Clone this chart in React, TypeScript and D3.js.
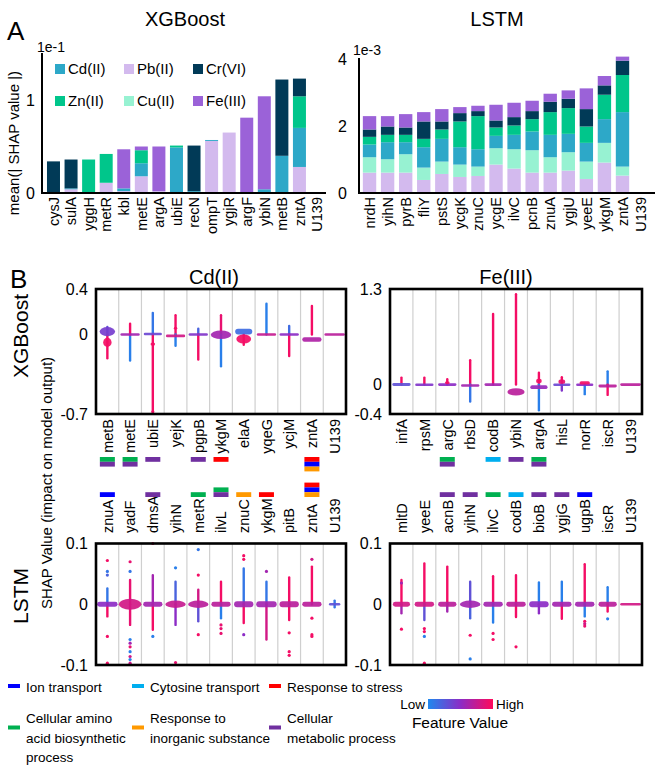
import React from 'react'
import * as d3 from 'd3'

const FONT = "'Liberation Sans', Arial, Helvetica, sans-serif"

// ---------- panel A : mean |SHAP| per metal ----------
const metals = ['Pb(II)', 'Cu(II)', 'Cd(II)', 'Zn(II)', 'Cr(VI)', 'Fe(III)'] // stack order, bottom -> top
const metalColors = ['#d3baee', '#97f2d2', '#2da8c8', '#00c68b', '#013a57', '#9b62d8']
const legendOrder = ['Cd(II)', 'Pb(II)', 'Cr(VI)', 'Zn(II)', 'Cu(II)', 'Fe(III)']

const xgbGenes = ['cysJ', 'sulA', 'yggH', 'metR', 'kbl', 'metE', 'argA', 'ubiE', 'recN', 'ompT', 'ygjR', 'argF', 'ybiN', 'metB', 'zntA', 'U139']
const xgbPb = [0, 0.04, 0, 0.11, 0.02, 0.18, 0.02, 0, 0, 0.56, 0.65, 0, 0, 0, 0.28, 0]
const xgbCu = [0, 0, 0, 0, 0, 0, 0, 0, 0, 0, 0, 0, 0, 0, 0, 0]
const xgbCd = [0, 0.01, 0, 0, 0.03, 0.14, 0, 0.49, 0.02, 0.01, 0, 0, 0.04, 0.40, 0.42, 0]
const xgbZn = [0, 0, 0.36, 0.31, 0, 0.14, 0, 0.02, 0, 0, 0, 0, 0, 0, 0.34, 0]
const xgbCr = [0.34, 0.31, 0, 0, 0, 0, 0, 0, 0.49, 0, 0, 0, 0, 0.82, 0.19, 0]
const xgbFe = [0, 0, 0, 0, 0.42, 0.04, 0.48, 0, 0, 0, 0, 0.81, 1.00, 0, 0, 0]

const lstmGenes = ['nrdH', 'yihN', 'pyrB', 'fliY', 'pstS', 'ycgK', 'znuC', 'ycgE', 'ilvC', 'pcnB', 'znuA', 'ygjU', 'yeeE', 'ykgM', 'zntA', 'U139']
const lstmPb = [0.61, 0.61, 0.61, 0.39, 0.57, 0.48, 0.51, 0.85, 0.73, 0.61, 0.61, 0.67, 0.42, 0.91, 0.52, 0]
const lstmCu = [0.46, 0.40, 0.55, 0.37, 0.37, 0.37, 0.28, 0.49, 0.58, 0.67, 0.46, 0.55, 0.52, 0.59, 0.27, 0]
const lstmCd = [0.38, 0.51, 0.36, 0.61, 0.68, 0.52, 0.52, 0.37, 0.43, 0.56, 0.67, 0.55, 0.56, 0.71, 1.63, 0]
const lstmZn = [0.23, 0.22, 0.22, 0.25, 0.28, 0.77, 0.99, 0.25, 0.28, 0.37, 0.68, 0.77, 0.49, 0.73, 1.11, 0]
const lstmCr = [0.22, 0.25, 0.22, 0.52, 0.24, 0.25, 0.15, 0.21, 0.25, 0.24, 0.31, 0.28, 0.52, 0.28, 0.43, 0]
const lstmFe = [0.40, 0.31, 0.40, 0.28, 0.37, 0.18, 0.16, 0.47, 0.43, 0.31, 0.24, 0.25, 0.62, 0.28, 0.12, 0]

// ---------- panel B : SHAP summaries ----------
// per gene: l = vertical runs [from, to, featureValue], b = dense blobs [lo, hi, relWidth, featureValue], d = single points [shap, featureValue]
const cdXgb = [
  { n: 'metB', l: [[0, 0.065, 0.3], [-0.21, 0, 0.95]], b: [[-0.015, 0.065, 0.68, 0.4], [-0.11, -0.03, 0.37, 0.95]] },
  { n: 'metE', l: [[-0.23, 0, 0.05], [0, 0.095, 0.95]], b: [[-0.008, 0.008, 0.85, 0.6]] },
  { n: 'ubiE', l: [[0, 0.19, 0.1], [-0.68, 0, 0.95]], b: [[-0.008, 0.015, 0.8, 0.35], [-0.1, -0.07, 0.2, 0.95]], d: [[-0.68, 0.95]] },
  { n: 'yejK', l: [[0, 0.17, 0.95], [-0.1, 0, 0.05]], b: [[-0.025, 0, 0.85, 0.8], [0.045, 0.065, 0.15, 0.95]] },
  { n: 'pgpB', l: [[0, 0.05, 0.2], [-0.22, 0, 0.95]], b: [[-0.01, 0.01, 0.85, 0.45]] },
  { n: 'ykgM', l: [[0, 0.17, 0.9], [-0.28, 0, 0.05]], b: [[-0.04, 0.035, 0.9, 0.6]] },
  { n: 'elaA', l: [[-0.09, 0, 0.95]], b: [[0, 0.05, 0.75, 0.15], [-0.08, 0, 0.65, 0.95]] },
  { n: 'yqeG', l: [[0, 0.27, 0.05]], b: [[-0.008, 0.008, 0.85, 0.75]] },
  { n: 'ycjM', l: [[0, 0.075, 0.15], [-0.19, 0, 0.95]], b: [[-0.008, 0.008, 0.85, 0.5]] },
  { n: 'zntA', l: [[0, 0.25, 0.95]], b: [[-0.065, -0.025, 0.85, 0.65]] },
  { n: 'U139', b: [[-0.006, 0.006, 0.9, 0.7]] },
]
const feXgb = [
  { n: 'infA', l: [[0, 0.095, 0.95]], b: [[-0.02, 0.02, 0.8, 0.3]] },
  { n: 'rpsM', l: [[0, 0.095, 0.95]], b: [[-0.02, 0.015, 0.8, 0.45]] },
  { n: 'argC', l: [[0, 0.072, 0.95]], b: [[-0.015, 0.015, 0.8, 0.5], [0.01, 0.04, 0.2, 0.95]] },
  { n: 'rbsD', l: [[0, 0.33, 0.95], [-0.23, 0, 0.1]], b: [[-0.03, 0.005, 0.8, 0.6]] },
  { n: 'codB', l: [[0, 0.96, 0.95]], b: [[-0.015, 0.015, 0.75, 0.6]] },
  { n: 'ybiN', l: [[0, 1.23, 0.95]], b: [[-0.15, -0.05, 0.75, 0.7]] },
  { n: 'argA', l: [[0, 0.16, 0.95], [-0.35, 0, 0.05]], b: [[-0.06, -0.01, 0.75, 0.55], [0.02, 0.08, 0.25, 0.95]] },
  { n: 'hisL', l: [[0, 0.1, 0.95], [-0.08, 0, 0.45]], b: [[-0.02, 0.015, 0.75, 0.35], [0.01, 0.07, 0.3, 0.9]] },
  { n: 'norR', l: [[-0.13, 0, 0.05]], b: [[-0.015, 0.01, 0.75, 0.5], [0, 0.045, 0.45, 0.95]] },
  { n: 'iscR', l: [[0, 0.18, 0.05], [-0.14, 0, 0.95]], b: [[-0.04, 0, 0.8, 0.7]] },
  { n: 'U139', b: [[-0.01, 0.01, 0.9, 0.7]] },
]
const cdLstm = [
  { n: 'znuA', l: [[0, 0.026, 0.1], [-0.02, 0, 0.95]], b: [[-0.004, 0.004, 0.9, 0.5]], d: [[0.054, 0.1], [0.048, 0.2], [0.072, 0.95], [-0.053, 0.95], [-0.097, 0.95]] },
  { n: 'yadF', l: [[0, 0.04, 0.9], [-0.034, 0, 0.9]], b: [[-0.009, 0.009, 1.0, 0.8]], d: [[0.054, 0.1], [0.07, 0.9], [-0.058, 0.05], [-0.064, 0.6], [-0.07, 0.9], [-0.078, 0.05], [-0.086, 0.8], [-0.091, 0.05], [-0.097, 0.8]] },
  { n: 'dmsA', l: [[0, 0.048, 0.6], [-0.042, 0, 0.95]], b: [[-0.004, 0.004, 0.85, 0.6]], d: [[0.1, 0.95], [-0.053, 0.05]] },
  { n: 'yihN', l: [[0, 0.037, 0.2], [-0.034, 0, 0.5]], b: [[-0.006, 0.006, 0.9, 0.75]], d: [[0.06, 0.05], [-0.096, 0.9]] },
  { n: 'metR', l: [[0, 0.024, 0.8], [-0.028, 0, 0.3]], b: [[-0.006, 0.006, 0.9, 0.7]], d: [[0.048, 0.95], [0.09, 0.1], [-0.05, 0.95]] },
  { n: 'ilvL', l: [[0, 0.037, 0.95], [-0.023, 0, 0.05]], b: [[-0.004, 0.004, 0.85, 0.7]], d: [[-0.034, 0.9], [-0.04, 0.9], [-0.048, 0.9]] },
  { n: 'znuC', l: [[0, 0.059, 0.1], [-0.031, 0, 0.95]], b: [[-0.005, 0.005, 0.85, 0.6]], d: [[0.074, 0.95], [0.08, 0.95], [-0.05, 0.5]] },
  { n: 'ykgM', l: [[0, 0.037, 0.1], [-0.058, 0, 0.8]], b: [[-0.005, 0.005, 0.9, 0.6]], d: [[0.054, 0.6]] },
  { n: 'pitB', l: [[0, 0.044, 0.95], [-0.026, 0, 0.95]], b: [[-0.005, 0.005, 0.85, 0.7]], d: [[-0.047, 0.95], [-0.078, 0.95], [-0.084, 0.95]] },
  { n: 'zntA', l: [[0, 0.062, 0.95]], b: [[-0.004, 0.004, 0.85, 0.7]], d: [[0.074, 0.8], [-0.023, 0.95], [-0.05, 0.95], [-0.053, 0.95]] },
  { n: 'U139', l: [[-0.005, 0.006, 0.1]], b: [[-0.002, 0.002, 0.5, 0.3]] },
]
const feLstm = [
  { n: 'mltD', l: [[0, 0.04, 0.95], [-0.015, 0, 0.6]], b: [[-0.004, 0.004, 0.75, 0.8]], d: [[0.035, 0.6], [-0.041, 0.95]] },
  { n: 'yeeE', l: [[0, 0.067, 0.95], [-0.026, 0, 0.3]], b: [[-0.004, 0.004, 0.85, 0.8]], d: [[-0.04, 0.95], [-0.045, 0.95], [-0.053, 0.05], [-0.097, 0.95]] },
  { n: 'acnB', l: [[0, 0.062, 0.95], [-0.012, 0, 0.6]], b: [[-0.004, 0.004, 0.8, 0.7]] },
  { n: 'yihN', l: [[0, 0.037, 0.3], [-0.023, 0, 0.2]], b: [[-0.006, 0.006, 0.9, 0.6]], d: [[-0.051, 0.95], [-0.09, 0.05]] },
  { n: 'ilvC', l: [[0, 0.046, 0.95], [-0.03, 0, 0.05]], b: [[-0.004, 0.004, 0.85, 0.6]], d: [[-0.048, 0.95], [-0.058, 0.95]] },
  { n: 'codB', l: [[0, 0.048, 0.95], [-0.021, 0, 0.95]], b: [[-0.004, 0.004, 0.85, 0.7]], d: [[-0.07, 0.95]] },
  { n: 'bioB', l: [[0, 0.036, 0.05], [-0.015, 0, 0.5]], b: [[-0.005, 0.005, 0.85, 0.5]] },
  { n: 'ygjG', l: [[0, 0.037, 0.05], [-0.024, 0, 0.95]], b: [[-0.004, 0.004, 0.85, 0.6]] },
  { n: 'ugpB', l: [[0, 0.066, 0.95], [-0.02, 0, 0.05]], b: [[-0.004, 0.004, 0.85, 0.6]], d: [[-0.028, 0.95], [-0.032, 0.8], [-0.036, 0.9]] },
  { n: 'iscR', l: [[0, 0.028, 0.05], [-0.012, 0, 0.95]], b: [[-0.004, 0.004, 0.8, 0.7]], d: [[-0.024, 0.05]] },
  { n: 'U139', b: [[-0.002, 0.002, 0.9, 0.8]] },
]

// GO annotations (top -> bottom) per gene
const cdXgbGo = [['amino', 'meta'], ['amino', 'meta'], ['meta'], [], ['meta'], ['stress'], [], [], [], ['stress', 'ion', 'inorg'], []]
const feXgbGo = [[], [], ['amino', 'meta'], [], ['cyt'], ['meta'], ['amino', 'meta'], [], [], [], []]
const cdLstmGo = [['ion'], [], ['meta'], [], ['amino'], ['amino', 'meta'], ['inorg'], ['stress'], [], ['stress', 'ion', 'inorg'], []]
const feLstmGo = [[], [], ['meta'], ['meta'], ['amino'], ['cyt'], ['meta'], ['meta'], ['ion'], [], []]

const goKeys = ['ion', 'cyt', 'stress', 'amino', 'inorg', 'meta']
const goColors = ['#0000ff', '#00aeef', '#ff0000', '#00b050', '#ff9900', '#7030a0']
const goLabels = [['Ion transport'], ['Cytosine transport'], ['Response to stress'], ['Cellular amino', 'acid biosynthetic', 'process'], ['Response to', 'inorganic substance'], ['Cellular', 'metabolic process']]

const goColor = d3.scaleOrdinal<string, string>().domain(goKeys).range(goColors)
const metalColor = d3.scaleOrdinal<string, string>().domain(metals).range(metalColors)
const fv = d3.piecewise(d3.interpolateRgb, ['#1e88ee', '#8c2cc6', '#ff0a5a'])

const StackedBars = ({ genes, series, x0, x1, yMax, yTop }) => {
  const rows = genes.map((g, i) => {
    const r: any = { gene: g }
    metals.forEach((m, k) => { r[m] = series[k][i] })
    return r
  })
  const stacked = d3.stack().keys(metals)(rows)
  const x = d3.scaleBand().domain(genes).range([x0, x1]).paddingInner(0.26).paddingOuter(0.13)
  const y = d3.scaleLinear().domain([0, yMax]).range([193, yTop])
  return (
    <g>
      {stacked.map(layer => (
        <g key={layer.key} fill={metalColor(layer.key)}>
          {layer.map((d, i) => d[1] - d[0] > 0 ? (
            <rect key={i} x={x(genes[i])} width={x.bandwidth()} y={y(d[1])} height={y(d[0]) - y(d[1])} />
          ) : null)}
        </g>
      ))}
      {genes.map(g => (
        <text key={g} transform={`translate(${x(g) + x.bandwidth() / 2},197) rotate(-90)`} dy="0.36em"
          textAnchor="end" fontSize={14.5}>{g}</text>
      ))}
    </g>
  )
}

const Swarm = ({ cols, go, x0, x1, dom, yr, ticks, tickText, side }) => {
  const x = d3.scaleBand().domain(cols.map(c => c.n)).range([x0, x1])
  const y = d3.scaleLinear().domain(dom).range(yr)
  const half = x.bandwidth() / 2
  return (
    <g>
      {cols.slice(1).map(c => (
        <line key={c.n} x1={x(c.n)} x2={x(c.n)} y1={yr[1]} y2={yr[0]} stroke="#cfcfcf" strokeWidth={1.2} />
      ))}
      {cols.map(c => {
        const cx = x(c.n) + half
        return (
          <g key={c.n}>
            {(c.l || []).map((s, i) => (
              <line key={'l' + i} x1={cx} x2={cx} y1={y(s[0])} y2={y(s[1])} stroke={fv(s[2])} strokeWidth={2.4} strokeLinecap="round" />
            ))}
            {(c.b || []).map((b, i) => {
              const hh = Math.max(1.3, Math.abs(y(b[0]) - y(b[1])) / 2)
              const cy = (y(b[0]) + y(b[1])) / 2
              const rx = b[2] * half
              return hh < 3.5 ? (
                <rect key={'b' + i} x={cx - rx} y={cy - hh} width={2 * rx} height={2 * hh} rx={hh} fill={fv(b[3])} opacity={0.92} />
              ) : (
                <ellipse key={'b' + i} cx={cx} cy={cy} rx={rx} ry={hh} fill={fv(b[3])} opacity={0.92} />
              )
            })}
            {(c.d || []).map((p, i) => (
              <circle key={'d' + i} cx={cx} cy={y(p[0])} r={1.6} fill={fv(p[1])} />
            ))}
          </g>
        )
      })}
      <rect x={x0} y={yr[1]} width={x1 - x0} height={yr[0] - yr[1]} fill="none" stroke="#000" strokeWidth={2.6} />
      {ticks.map((t, i) => (
        <text key={t} x={x0 - 8} y={y(t)} dy="0.35em" textAnchor="end" fontSize={16}>{tickText[i]}</text>
      ))}
      {cols.map((c, i) => {
        const cx = x(c.n) + half
        const tags = go[i]
        return (
          <g key={'lab' + c.n}>
            {side === 'below' ? (
              <text transform={`translate(${cx},419) rotate(-90)`} dy="0.36em" textAnchor="end" fontSize={14.5}>{c.n}</text>
            ) : (
              <text transform={`translate(${cx},533) rotate(-90)`} dy="0.36em" textAnchor="start" fontSize={14.5}>{c.n}</text>
            )}
            {tags.map((t, k) => (
              <rect key={t} x={cx - 7.5} width={15} height={4.8}
                y={side === 'below' ? 457 + k * 4.8 : 497 - (tags.length - k) * 4.8} fill={goColor(t)} />
            ))}
          </g>
        )
      })}
    </g>
  )
}

export default function App() {
  const gradStops = d3.range(0, 1.001, 0.1)
  return (
    <svg width={655} height={765} style={{ position: 'absolute', left: 0, top: 0, background: '#fff' }}
      fontFamily={FONT} fill="#000">
      <defs>
        <linearGradient id="fvgrad" x1="0" x2="1" y1="0" y2="0">
          {gradStops.map(s => <stop key={s} offset={s} stopColor={fv(s)} />)}
        </linearGradient>
      </defs>

      {/* ---- A ---- */}
      <text x={7} y={40} fontSize={26}>A</text>
      <text x={185} y={26} fontSize={20} textAnchor="middle">XGBoost</text>
      <text x={497} y={26} fontSize={20} textAnchor="middle">LSTM</text>
      <text transform="translate(19,143) rotate(-90)" textAnchor="middle" fontSize={15}>mean(| SHAP value |)</text>

      <StackedBars genes={xgbGenes} series={[xgbPb, xgbCu, xgbCd, xgbZn, xgbCr, xgbFe]} x0={44.7} x1={325.8} yMax={1} yTop={100} />
      <line x1={42} x2={42} y1={53} y2={194} stroke="#000" strokeWidth={2} />
      <line x1={41} x2={326} y1={193} y2={193} stroke="#000" strokeWidth={2} />
      <text x={37} y={52} fontSize={14}>1e-1</text>
      <text x={35} y={100} dy="0.35em" textAnchor="end" fontSize={16}>1</text>
      <text x={35} y={193} dy="0.35em" textAnchor="end" fontSize={16}>0</text>
      {legendOrder.map((m, i) => {
        const lx = [55, 124, 193][i % 3]
        const ly = i < 3 ? 64 : 96
        return (
          <g key={m}>
            <rect x={lx} y={ly} width={10} height={10} fill={metalColor(m)} />
            <text x={lx + 13} y={ly + 10} fontSize={15}>{m}</text>
          </g>
        )
      })}

      <StackedBars genes={lstmGenes} series={[lstmPb, lstmCu, lstmCd, lstmZn, lstmCr, lstmFe]} x0={360.5} x1={649.6} yMax={4} yTop={59.3} />
      <line x1={359} x2={359} y1={58} y2={194} stroke="#000" strokeWidth={2} />
      <line x1={358} x2={655} y1={193} y2={193} stroke="#000" strokeWidth={2} />
      <text x={353} y={55} fontSize={14}>1e-3</text>
      {[4, 2, 0].map(t => (
        <text key={t} x={347} y={193 - t * 33.4} dy="0.35em" textAnchor="end" fontSize={16}>{t}</text>
      ))}

      {/* ---- B ---- */}
      <text x={10} y={288} fontSize={26}>B</text>
      <text x={214} y={284} fontSize={20} textAnchor="middle">Cd(II)</text>
      <text x={506} y={284} fontSize={20} textAnchor="middle">Fe(III)</text>
      <text transform="translate(28,336) rotate(-90)" textAnchor="middle" fontSize={21}>XGBoost</text>
      <text transform="translate(28,596) rotate(-90)" textAnchor="middle" fontSize={21}>LSTM</text>
      <text transform="translate(52,483) rotate(-90)" textAnchor="middle" fontSize={15}>SHAP Value (impact on model output)</text>

      <Swarm cols={cdXgb} go={cdXgbGo} x0={96} x1={346} dom={[-0.7, 0.4]} yr={[414, 289]}
        ticks={[0.4, 0, -0.7]} tickText={['0.4', '0', '-0.7']} side="below" />
      <Swarm cols={feXgb} go={feXgbGo} x0={390} x1={642} dom={[-0.4, 1.3]} yr={[414, 289]}
        ticks={[1.3, 0, -0.4]} tickText={['1.3', '0', '-0.4']} side="below" />
      <Swarm cols={cdLstm} go={cdLstmGo} x0={96} x1={346} dom={[-0.1, 0.1]} yr={[665, 543.5]}
        ticks={[0.1, 0, -0.1]} tickText={['0.1', '0', '-0.1']} side="above" />
      <Swarm cols={feLstm} go={feLstmGo} x0={390} x1={642} dom={[-0.1, 0.1]} yr={[665, 543.5]}
        ticks={[0.1, 0, -0.1]} tickText={['0.1', '0', '-0.1']} side="above" />

      {/* ---- GO legend ---- */}
      {goKeys.map((k, i) => {
        const lx = [8, 132, 269][i % 3]
        const row1 = i >= 3
        const sy = row1 ? 725.5 : 684
        const ty = row1 ? 723 : 692
        return (
          <g key={k}>
            <rect x={lx} y={sy} width={12} height={4} fill={goColor(k)} />
            {goLabels[i].map((t, j) => (
              <text key={j} x={lx + 18} y={ty + j * 19.5} fontSize={13.5}>{t}</text>
            ))}
          </g>
        )
      })}

      {/* ---- feature value colour bar ---- */}
      <text x={425} y={704} dy="0.35em" textAnchor="end" fontSize={13.5}>Low</text>
      <rect x={428} y={699} width={65} height={10} fill="url(#fvgrad)" />
      <text x={496} y={704} dy="0.35em" fontSize={13.5}>High</text>
      <text x={460} y={728} textAnchor="middle" fontSize={15.5}>Feature Value</text>
    </svg>
  )
}
